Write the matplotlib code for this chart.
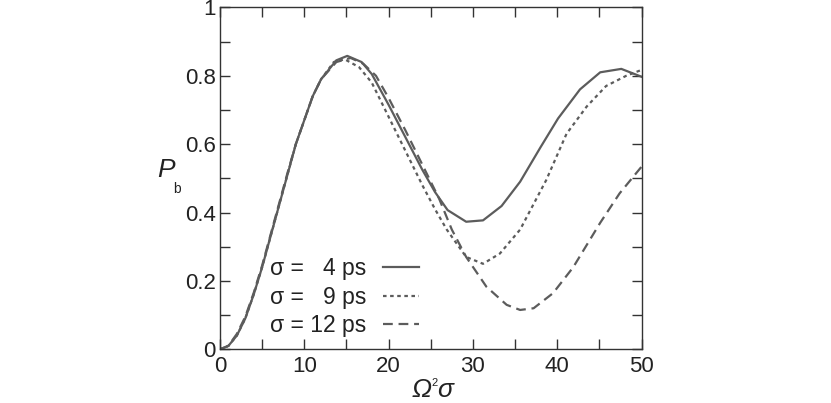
import numpy as np
import matplotlib
matplotlib.use("Agg")
import matplotlib.pyplot as plt
from matplotlib.ticker import MultipleLocator, FixedLocator

plt.rcParams["font.family"] = ["Liberation Sans", "DejaVu Sans"]

# curve data
x_4ps = [0, 1, 2, 3, 4, 5, 6, 7, 8, 9, 10, 11, 12, 13.8, 15.1, 16.8, 18, 20, 22,
         24, 25.5, 27, 29.2, 31.2, 33.4, 35.6, 38, 40.1, 42.7, 45.1, 47.6, 50]
y_4ps = [0, 0.01, 0.04, 0.09, 0.16, 0.24, 0.33, 0.42, 0.51, 0.60, 0.67, 0.74, 0.79,
         0.845, 0.858, 0.84, 0.805, 0.715, 0.62, 0.525, 0.46, 0.407, 0.373, 0.377,
         0.419, 0.49, 0.59, 0.675, 0.76, 0.81, 0.82, 0.797]

x_9ps = [0, 1, 2, 3, 4, 5, 6, 7, 8, 9, 10, 11, 12, 13.5, 14.8, 16.5, 18, 20, 22,
         24, 25.5, 26.9, 29.2, 31.2, 33.2, 35.6, 38.7, 41.1, 43.5, 45.8, 48.2, 50]
y_9ps = [0, 0.01, 0.04, 0.09, 0.16, 0.24, 0.33, 0.42, 0.51, 0.60, 0.67, 0.74, 0.79,
         0.84, 0.848, 0.825, 0.78, 0.68, 0.58, 0.48, 0.41, 0.35, 0.27, 0.25,
         0.28, 0.35, 0.495, 0.63, 0.71, 0.77, 0.80, 0.817]

x_12ps = [0, 1, 2, 3, 4, 5, 6, 7, 8, 9, 10, 11, 12, 13.8, 15.5, 17, 18.5, 20, 22,
          24, 26, 27.5, 29.2, 31.6, 34, 35.6, 37.2, 39.5, 41.9, 45.1, 47.4, 50]
y_12ps = [0, 0.01, 0.045, 0.095, 0.165, 0.245, 0.335, 0.425, 0.515, 0.60, 0.67,
          0.74, 0.79, 0.84, 0.852, 0.835, 0.80, 0.735, 0.64, 0.54, 0.44, 0.35,
          0.27, 0.183, 0.13, 0.115, 0.12, 0.164, 0.24, 0.37, 0.456, 0.534]

labels = ["σ =   4 ps", "σ =   9 ps", "σ = 12 ps"]
y_ticks = [0, 0.2, 0.4, 0.6, 0.8, 1]
y_ticklabels = ["0", "0.2", "0.4", "0.6", "0.8", "1"]
x_ticks = [0, 10, 20, 30, 40, 50]

line_color = "#5c5c5c"
text_color = "#222222"

fig = plt.figure(figsize=(8.31, 4.03), dpi=100)
ax = fig.add_axes([0.2647, 0.1333, 0.5073, 0.8485])

ax.plot(x_4ps, y_4ps, color=line_color, lw=1.6, ls="-", label=labels[0])
ax.plot(x_9ps, y_9ps, color=line_color, lw=1.6, ls=(0, (1.6, 1.6)), label=labels[1])
ax.plot(x_12ps, y_12ps, color=line_color, lw=1.6, ls=(0, (4.4, 2.6)), label=labels[2])

ax.set_xlim(0, 50)
ax.set_ylim(0, 1)
ax.xaxis.set_major_locator(FixedLocator(x_ticks))
ax.xaxis.set_minor_locator(MultipleLocator(5))
ax.set_yticks(y_ticks)
ax.set_yticklabels(y_ticklabels)
ax.yaxis.set_minor_locator(MultipleLocator(0.1))
ax.tick_params(which="both", direction="in", top=True, right=True,
               color="#333333", width=1.0, labelsize=16, labelcolor=text_color, pad=3)
ax.tick_params(axis="x", which="both", pad=5)
ax.tick_params(which="both", length=7)
for s in ax.spines.values():
    s.set_color("#333333")
    s.set_linewidth(1.0)

# axis titles: italic, with tiny super/subscripts as in the original
ax.text(0.455, -0.085, "Ω", transform=ax.transAxes, fontsize=19, style="italic",
        color=text_color, ha="left", va="top")
ax.text(0.501, -0.083, "2", transform=ax.transAxes, fontsize=8,
        color=text_color, ha="left", va="top")
ax.text(0.515, -0.085, "σ", transform=ax.transAxes, fontsize=19, style="italic",
        color=text_color, ha="left", va="top")
ax.text(-0.15, 0.525, "P", transform=ax.transAxes, fontsize=19, style="italic",
        color=text_color, ha="left", va="center")
ax.text(-0.11, 0.47, "b", transform=ax.transAxes, fontsize=10,
        color=text_color, ha="left", va="center")

leg = ax.legend(loc="lower left", bbox_to_anchor=(0.118, 0.035), frameon=False,
                markerfirst=False, fontsize=16.5, handlelength=1.57, handletextpad=0.74,
                labelspacing=0.25, borderpad=0, borderaxespad=0)
for t in leg.get_texts():
    t.set_color(text_color)

fig.savefig("out.png", dpi=100)
